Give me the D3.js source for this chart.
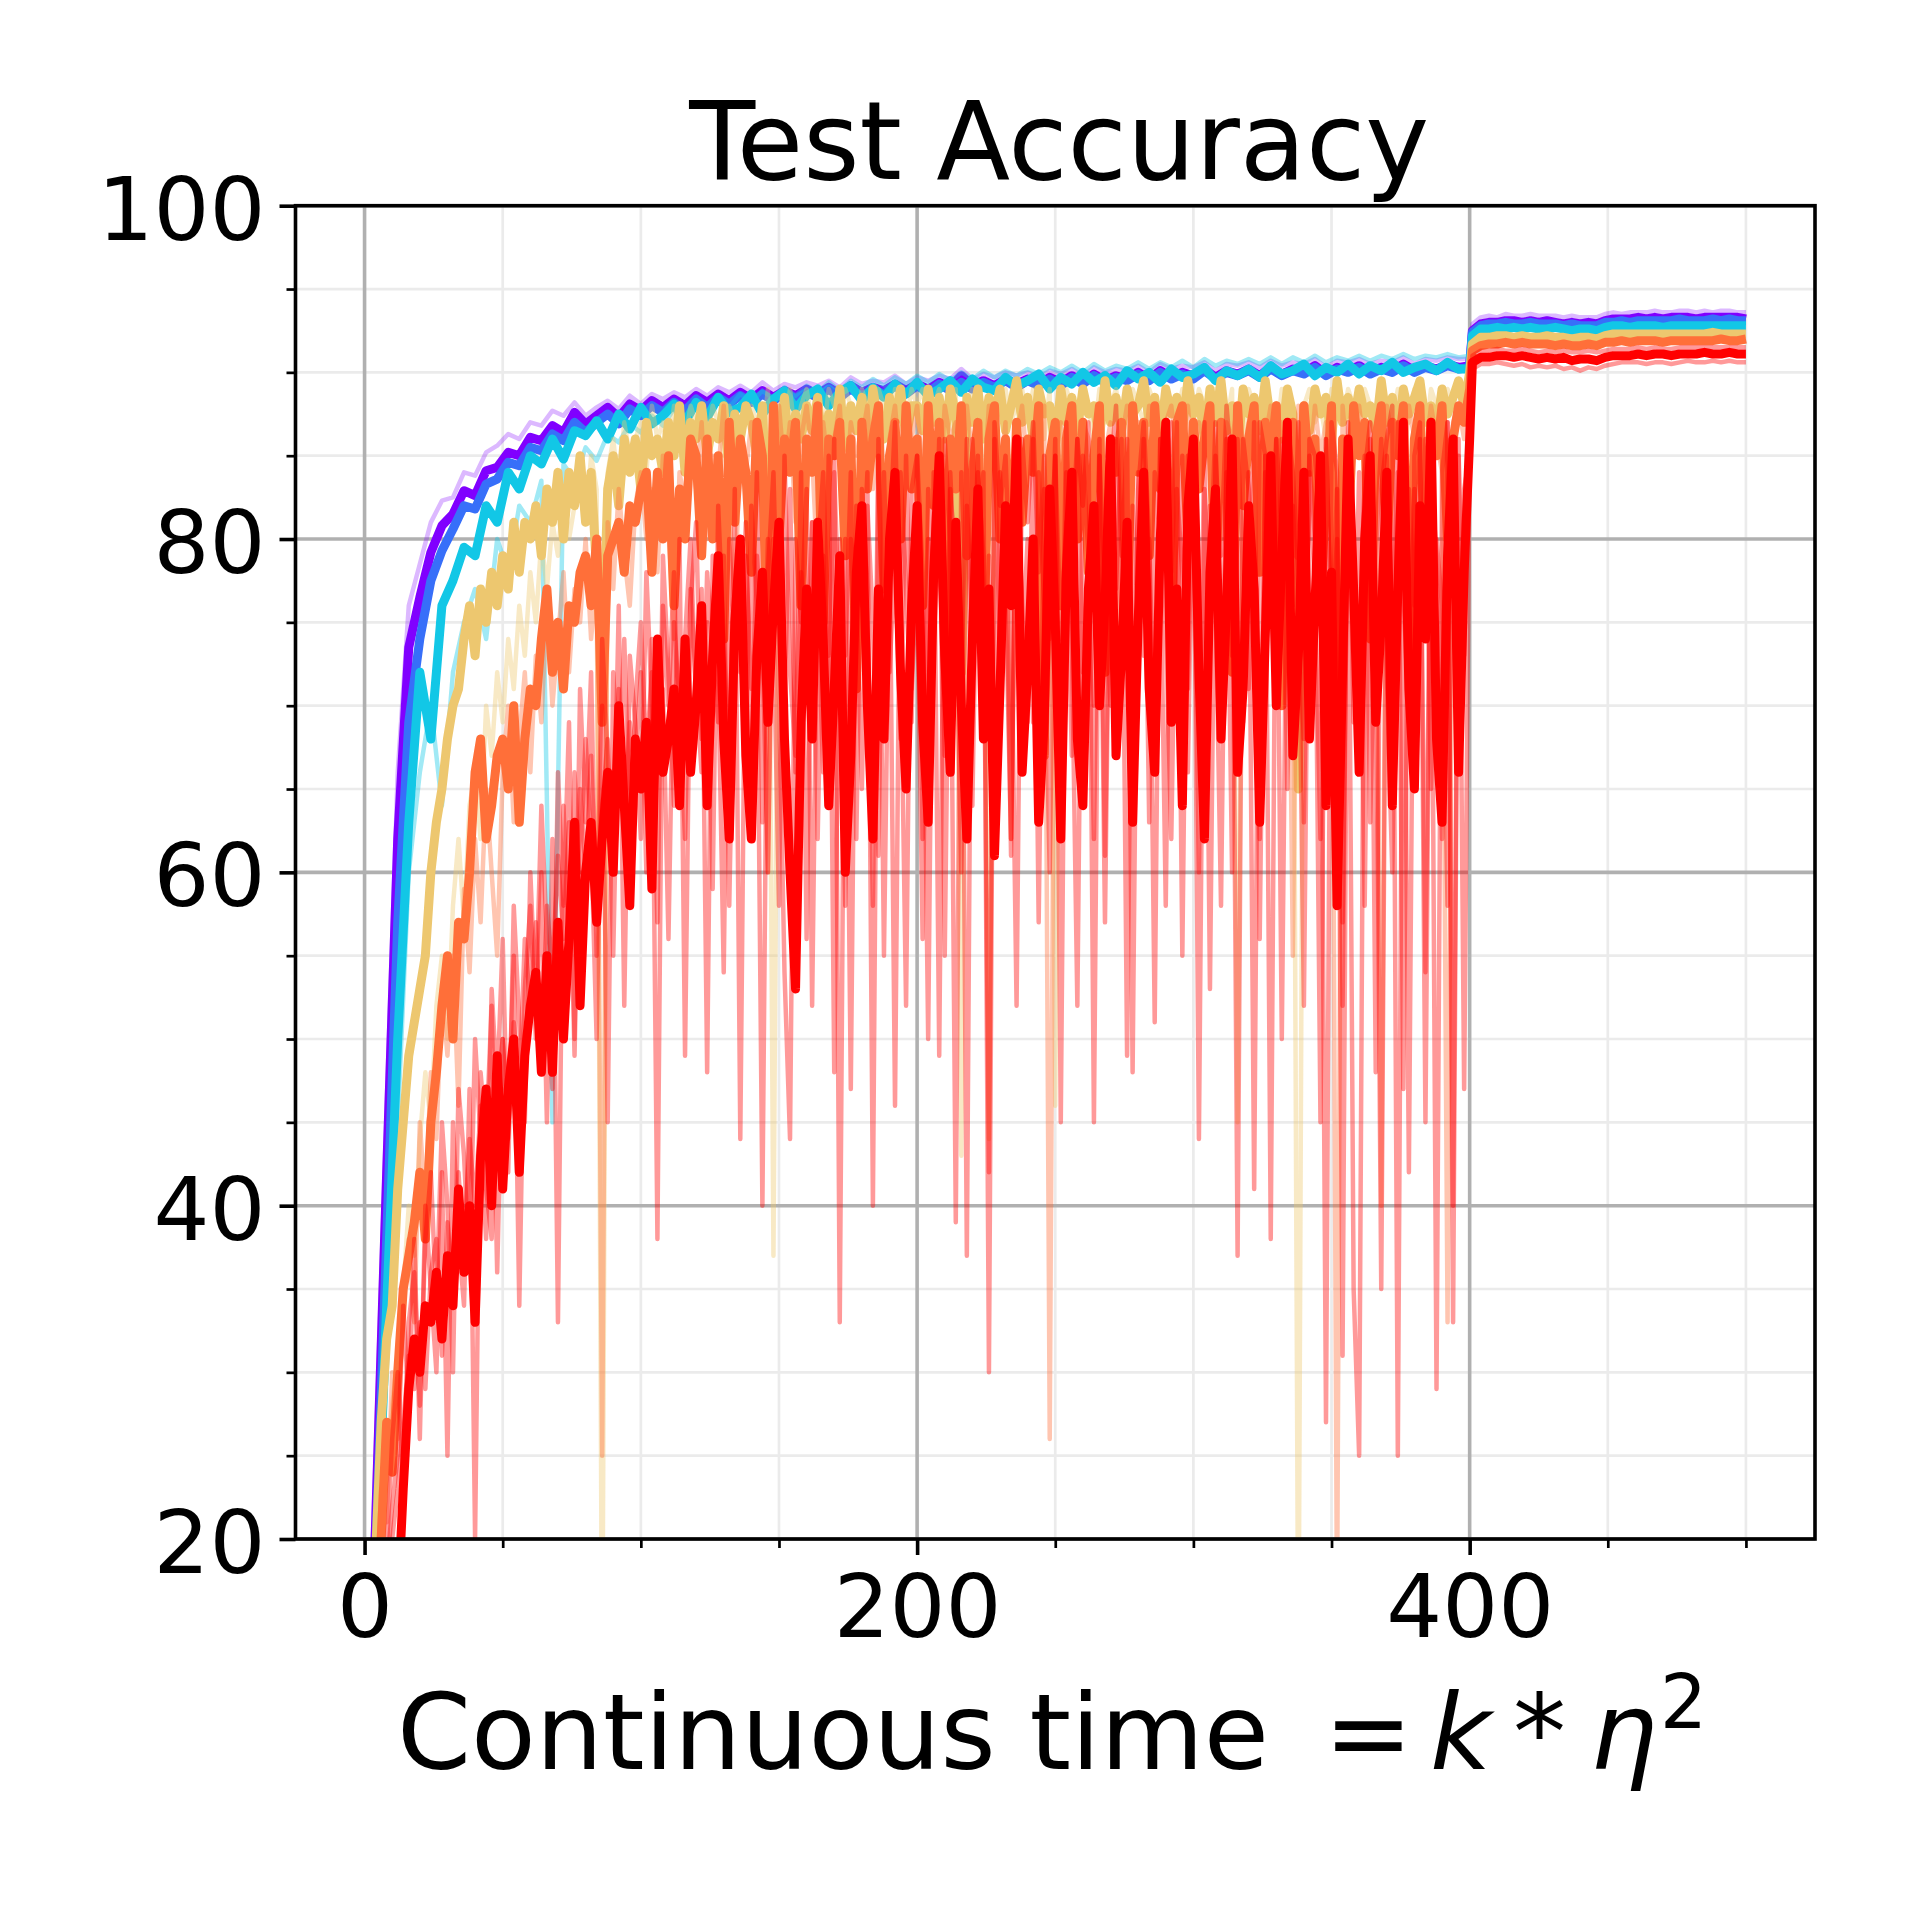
<!DOCTYPE html>
<html>
<head>
<meta charset="utf-8">
<script src="https://cdn.jsdelivr.net/npm/d3@7"></script>
<style>
html, body { margin: 0; padding: 0; background: #fff; }
svg text { font-family: 'DejaVu Sans', sans-serif; fill: #000; }
</style>
</head>
<body>
<svg id="chart"></svg>
<script>
'use strict'

// x grids (continuous time); before the lr drop every 2 (or 4) units, after it every 3
let t_fine = d3.range(0, 401, 2), t_coarse = d3.range(0, 401, 4), t_post = d3.range(401, 501, 3)

let y_ticks = [20, 40, 60, 80, 100], y_minor = [25, 30, 35, 45, 50, 55, 65, 70, 75, 85, 90, 95],
	x_ticks = [0, 200, 400], x_minor = [50, 100, 150, 250, 300, 350, 450, 500]

// mean curves
let purple_pre = [
	2, 21, 42, 62, 73.5, 76.5, 79.2, 80.8, 81.5, 82.9,
	82.6, 84.1, 84.3, 85.2, 85.0, 86.1, 85.9, 86.8, 86.4, 87.6,
	86.9, 87.4, 87.9, 87.3, 88.1, 87.7, 88.3, 87.9, 88.4, 88.0,
	88.6, 88.2, 88.7, 88.3, 88.8, 88.4, 88.9, 88.5, 88.9, 88.6,
	89.0, 88.7, 89.1, 88.7, 89.2, 88.8, 89.1, 88.9, 89.3, 88.9,
	89.3, 89.0, 89.4, 89.1, 89.8, 89.2, 89.5, 89.2, 89.6, 89.3,
	89.6, 89.3, 89.7, 89.4, 89.8, 89.4, 89.9, 89.5, 89.8, 89.6,
	90.0, 89.6, 90.1, 89.7, 90.0, 89.8, 90.2, 89.7, 90.1, 89.9,
	90.2, 89.8, 90.3, 89.9, 90.2, 90.0, 90.4, 89.9, 90.3, 90.1,
	90.4, 90.0, 90.3, 90.1, 90.5, 90.1, 90.4, 90.2, 90.5, 90.3,
	90.4 ]
let purple_post = [
	92.5, 92.9, 93.0, 93.0, 93.1, 93.1, 93.0, 93.1, 93.0, 93.1, 93.0, 92.9, 93.0, 92.9, 93.0, 92.9, 93.1,
	93.2, 93.2, 93.2, 93.3, 93.2, 93.3, 93.2, 93.3, 93.3, 93.3, 93.2, 93.3, 93.3, 93.3, 93.3, 93.3, 93.2 ]

let blue_pre = [
	1, 19, 38, 57, 69, 74, 77.5, 79.3, 80.6, 82.0,
	81.8, 83.3, 83.6, 84.6, 84.4, 85.5, 85.3, 86.3, 85.9, 87.0,
	86.4, 87.0, 87.5, 86.9, 87.8, 87.4, 88.0, 87.6, 88.2, 87.7,
	88.4, 87.9, 88.5, 88.1, 88.6, 88.2, 88.7, 88.3, 88.8, 88.4,
	88.8, 88.5, 89.0, 88.5, 89.0, 88.6, 89.0, 88.7, 89.2, 88.7,
	89.2, 88.8, 89.3, 88.9, 89.4, 89.0, 89.4, 89.1, 89.5, 89.1,
	89.5, 89.2, 89.6, 89.2, 89.7, 89.3, 89.8, 89.4, 89.7, 89.5,
	89.9, 89.5, 90.0, 89.6, 89.9, 89.6, 90.1, 89.6, 90.0, 89.8,
	90.1, 89.7, 90.2, 89.8, 90.1, 89.9, 90.3, 89.8, 90.2, 90.0,
	90.3, 89.9, 90.2, 90.0, 90.4, 90.0, 90.3, 90.1, 90.4, 90.2,
	90.3 ]
let blue_post = [
	92.4, 92.8, 92.9, 92.9, 93.0, 92.9, 92.9, 93.0, 92.9, 92.9, 92.9, 92.8, 92.9, 92.8, 92.8, 92.8, 93.0,
	93.0, 93.1, 93.0, 93.1, 93.1, 93.1, 93.1, 93.1, 93.2, 93.1, 93.1, 93.1, 93.2, 93.1, 93.2, 93.1, 93.1 ]

let cyan_pre = [
	0, 17, 34, 50, 63, 72, 68, 76, 77.5, 79.5,
	79.0, 82.0, 81.0, 84.0, 83.0, 85.0, 84.5, 86.0, 84.8, 86.5,
	86.2, 87.1, 86.0, 87.5, 86.6, 87.9, 86.9, 87.4, 88.1, 87.0,
	88.2, 87.3, 88.5, 87.6, 87.9, 88.7, 87.5, 88.4, 88.9, 87.8,
	88.6, 89.0, 88.0, 88.8, 89.2, 88.3, 89.1, 88.5, 89.3, 88.7,
	89.4, 88.6, 89.0, 89.5, 88.8, 89.6, 89.1, 88.9, 89.7, 89.2,
	89.5, 89.9, 89.0, 89.7, 89.3, 90.0, 89.4, 89.8, 89.2, 90.1,
	89.6, 90.0, 89.4, 90.2, 89.7, 89.9, 90.3, 89.5, 90.1, 89.8,
	90.2, 89.7, 90.4, 89.9, 90.1, 90.5, 89.8, 90.3, 90.0, 90.5,
	89.9, 90.4, 90.1, 90.6, 90.0, 90.3, 90.5, 90.1, 90.6, 90.2,
	90.2 ]
let cyan_post = [
	92.2, 92.6, 92.6, 92.7, 92.6, 92.7, 92.6, 92.7, 92.6, 92.6, 92.7, 92.6, 92.5, 92.6, 92.6, 92.5, 92.7,
	92.8, 92.8, 92.7, 92.8, 92.8, 92.8, 92.7, 92.8, 92.8, 92.8, 92.8, 92.8, 92.8, 92.8, 92.8, 92.8, 92.8 ]

let tan_pre = [
	2, 10, 19, 27, 32, 34, 41, 45, 49, 51,
	53, 55, 60, 63, 65, 68, 70, 71, 74, 76,
	73, 77, 75, 78, 76, 79, 77, 81, 78, 81,
	80, 82, 79, 83, 81, 84, 80, 84, 82, 85,
	81, 84, 78, 72, 83, 85, 82, 86, 84, 86,
	83, 87, 85, 86, 84, 87, 85, 88, 84, 87,
	86, 88, 85, 87, 86, 88, 84, 87.5, 86, 88,
	87, 85, 88, 80, 87, 86, 88.5, 85, 87.5, 86,
	88, 86.5, 88.5, 85, 87.5, 86, 89, 85.5, 88, 86.5,
	88.5, 85.5, 89, 87, 86, 88.5, 87, 89, 86, 88,
	88, 86.5, 89, 87, 88.5, 86, 89, 87.5, 72, 88.5,
	87, 89, 86, 88.5, 87.5, 89, 86.5, 88, 89.5, 87,
	88.5, 86, 89, 87.5, 88, 85.5, 89, 87, 88.5, 86.5,
	89, 87.5, 88, 86, 89.5, 87, 88.5, 86.5, 89, 87.5,
	88, 89.5, 87, 88.5, 86, 89, 87.5, 88.5, 86.5, 89.5,
	87.5, 88.5, 86, 89, 87, 89.5, 86.5, 88, 85, 89,
	87.5, 88.5, 86.5, 89.5, 87, 88, 86, 89, 87.5, 65,
	88, 86.5, 89, 87.5, 88.5, 86, 89.5, 87, 88.5, 87,
	89, 87.5, 88, 86.5, 89.5, 87, 88.5, 86, 89, 87.5,
	88.5, 89.5, 87, 88, 86.5, 89, 87.5, 88.5, 89.5, 88,
	90 ]
let tan_post = [
	91.7, 92.1, 92.1, 92.2, 92.2, 92.1, 92.2, 92.1, 92.1, 92.2, 92.1, 92.1, 92.0, 92.1, 92.1, 92.0, 92.2,
	92.3, 92.3, 92.3, 92.3, 92.3, 92.3, 92.3, 92.3, 92.3, 92.3, 92.3, 92.3, 92.4, 92.3, 92.3, 92.3, 92.3 ]

let orange_pre = [
	5, 6, 10, 20, 27, 24, 30, 35, 37, 39,
	42, 38, 45, 48, 52, 55, 50, 57, 56, 60,
	66, 68, 62, 64, 67, 68, 65, 70, 63, 68,
	71, 70, 74, 77, 72, 75, 71, 76, 75, 78,
	79, 76, 80, 69, 79, 80, 81, 78, 82, 81,
	83, 84, 78, 84, 80, 85, 76, 83, 80, 86,
	85, 79, 86, 80, 85, 74, 87, 81, 86, 84,
	78, 87, 85, 72, 88, 80, 86, 84, 87, 76,
	86, 84, 88, 75, 86, 85, 87, 79, 86, 71,
	87, 83, 86, 88, 77, 85, 87, 80, 88, 83,
	86, 76, 88, 82, 87, 74, 86, 83, 88, 79,
	84, 87, 73, 86, 88, 80, 86, 77, 87, 81,
	86, 84, 88, 67, 85, 87, 76, 86, 88, 80,
	87, 78, 85, 88, 72, 86, 84, 87, 75, 88,
	84, 87, 79, 88, 83, 86, 74, 87, 88, 80,
	87, 83, 86, 88, 77, 87, 84, 72, 88, 82,
	86, 88, 78, 87, 85, 88, 70, 86, 87, 79,
	88, 84, 86, 76, 83, 88, 65, 86, 80, 88,
	85, 87, 74, 86, 88, 79, 87, 85, 88, 73,
	86, 88, 77, 87, 85, 88, 80, 86, 88, 87,
	89 ]
let orange_post = [
	91.3, 91.6, 91.7, 91.7, 91.8, 91.7, 91.8, 91.7, 91.7, 91.7, 91.6, 91.7, 91.6, 91.6, 91.7, 91.6, 91.8,
	91.8, 91.9, 91.8, 91.9, 91.9, 91.9, 91.8, 91.9, 91.9, 91.9, 91.9, 91.9, 91.9, 92.0, 91.9, 91.9, 92.0 ]

let red_pre = [
	5, 5, 6, 8, 10, 12, 16, 23, 29, 32,
	30, 34, 33, 36, 32, 37, 34, 41, 36, 40,
	33, 43, 47, 40, 49, 41, 47, 50, 42, 49,
	52, 54, 48, 55, 48, 57, 50, 56, 63, 52,
	60, 63, 57, 62, 66, 60, 70, 64, 58, 68,
	65, 69, 59, 74, 66, 68, 71, 64, 74, 66,
	70, 76, 64, 73, 79, 68, 62, 75, 80, 67,
	62, 73, 78, 69, 76, 81, 68, 60, 53, 69,
	77, 68, 81, 74, 64, 71, 79, 60, 67, 78,
	82, 70, 62, 77, 68, 80, 84, 72, 65, 76,
	82, 69, 63, 78, 85, 73, 66, 81, 70, 62,
	74, 83, 68, 77, 61, 71, 82, 76, 86, 66,
	72, 80, 63, 69, 83, 75, 62, 78, 84, 68,
	64, 77, 82, 70, 76, 86, 67, 73, 81, 63,
	75, 84, 71, 66, 80, 87, 69, 77, 64, 82,
	86, 72, 62, 78, 83, 68, 76, 86, 66, 71,
	82, 77, 63, 74, 85, 70, 79, 87, 67, 73,
	84, 68, 76, 85, 64, 78, 58, 72, 86, 77,
	66, 80, 85, 69, 75, 84, 64, 77, 87, 71,
	65, 82, 74, 87, 68, 63, 79, 86, 66, 78,
	86 ]
let red_post = [
	90.6, 90.9, 90.9, 91.0, 91.0, 90.9, 91.0, 90.9, 90.8, 90.9, 90.8, 90.9, 90.7, 90.8, 90.8, 90.7, 90.9,
	91.0, 91.0, 91.0, 91.1, 91.0, 91.1, 91.1, 91.0, 91.1, 91.1, 91.1, 91.2, 91.1, 91.1, 91.2, 91.1, 91.1 ]

// single runs, drawn faint
let purple_run_pre = [
	4, 25, 46, 66, 76, 78.5, 81, 82.3, 82.5, 84,
	83.8, 85.2, 85.6, 86.3, 86.0, 87.0, 86.8, 87.7, 87.4, 88.2,
	87.4, 87.9, 88.3, 87.8, 88.6, 88.1, 88.7, 88.4, 88.8, 88.5,
	89.0, 88.6, 89.1, 88.8, 89.2, 88.8, 89.4, 88.9, 89.3, 89.1,
	89.4, 89.2, 89.5, 89.1, 89.7, 89.3, 89.5, 89.4, 89.8, 89.3,
	89.7, 89.5, 89.8, 89.6, 90.2, 89.6, 89.9, 89.7, 90.0, 89.8,
	90.0, 89.7, 90.1, 89.9, 90.2, 89.8, 90.3, 90.0, 90.2, 90.1,
	90.4, 90.0, 90.5, 90.2, 90.4, 90.3, 90.6, 90.1, 90.5, 90.4,
	90.6, 90.3, 90.7, 90.4, 90.6, 90.5, 90.8, 90.3, 90.7, 90.6,
	90.8, 90.5, 90.7, 90.6, 90.9, 90.5, 90.8, 90.7, 90.9, 90.8,
	90.8 ]
let purple_run_post = [
	92.9, 93.3, 93.4, 93.3, 93.5, 93.4, 93.4, 93.5, 93.4, 93.4, 93.4, 93.3, 93.4, 93.3, 93.3, 93.3, 93.5,
	93.6, 93.5, 93.6, 93.6, 93.6, 93.7, 93.6, 93.6, 93.7, 93.7, 93.6, 93.7, 93.6, 93.7, 93.7, 93.6, 93.6 ]

let cyan_run_pre = [
	0, 15, 30, 45, 60, 66, 70, 64, 72, 75,
	77, 74, 80, 78, 82, 81, 83.5, 45, 84.5, 83.5,
	85.5, 84.7, 86.3, 85.8, 86.9, 86.4, 87.4, 86.8, 87.8, 87.2,
	88.1, 87.6, 88.4, 87.9, 88.7, 88.2, 88.9, 88.4, 89.1, 88.6,
	89.2, 88.8, 89.4, 88.9, 89.5, 89.1, 89.6, 89.2, 89.7, 89.3,
	89.8, 89.4, 89.9, 89.5, 90.0, 89.6, 90.1, 89.7, 90.1, 89.8,
	90.2, 89.9, 90.3, 90.0, 90.4, 90.0, 90.5, 90.1, 90.4, 90.2,
	90.6, 90.2, 90.6, 90.3, 90.7, 90.3, 90.8, 90.4, 90.7, 90.5,
	90.8, 90.5, 90.9, 90.5, 90.9, 90.6, 91.0, 90.6, 90.9, 90.7,
	91.0, 90.7, 91.0, 90.8, 91.1, 90.8, 91.0, 90.9, 91.1, 90.9,
	91.0 ]

let tan_run_pre = [
	5, 8, 14, 20, 24, 28, 31, 35, 40, 37,
	44, 48, 45, 52, 55, 50, 58, 62, 57, 64,
	66, 62, 70, 67, 72, 69, 74, 71, 76, 73,
	78, 75, 80, 77, 81, 79, 83, 80, 82, 84,
	81, 85, 83, 10, 84, 86, 83, 87, 85, 86,
	87, 84, 88, 86, 87, 85, 88, 87, 86, 88,
	87, 88, 86, 88, 87, 85, 88, 87, 86, 88,
	88, 87, 86, 89, 37, 88, 87, 89, 86, 88,
	89, 87, 88, 86, 89, 88, 87, 89, 88, 87,
	89, 88, 87, 89, 88, 86, 89, 88, 87, 89,
	88, 89, 87, 88, 89, 86, 88, 89, 43, 88,
	89, 87, 88, 44, 86, 88, 89, 87, 88, 89,
	87, 89, 88, 86, 89, 46, 87, 89, 88, 87,
	89, 88, 86, 89, 87, 88, 89, 87, 88, 89,
	88, 87, 89, 88, 86, 89, 88, 87, 89, 88,
	87, 89, 88, 86, 89, 88, 87, 89, 45, 86,
	89, 88, 87, 89, 88, 86, 89, 88, 87, 10,
	88, 89, 87, 88, 86, 89, 88, 87, 89, 88,
	87, 89, 88, 86, 89, 88, 87, 89, 88, 87,
	89, 88, 86, 89, 88, 87, 89, 88, 87, 89,
	90 ]

let orange_run_pre = [
	5, 8, 15, 23, 21, 30, 26, 34, 38, 33,
	45, 40, 48, 44, 53, 49, 55, 46, 59, 54,
	62, 57, 65, 60, 55, 66, 70, 63, 68, 72,
	66, 73, 69, 76, 70, 74, 78, 72, 77, 75,
	80, 74, 78, 25, 81, 77, 83, 79, 76, 82,
	84, 80, 83, 78, 85, 81, 74, 84, 82, 86,
	83, 87, 80, 85, 84, 88, 82, 76, 86, 84,
	87, 83, 85, 60, 86, 88, 84, 87, 81, 86,
	88, 85, 78, 87, 84, 86, 88, 82, 87, 85,
	86, 88, 83, 87, 70, 86, 88, 84, 87, 86,
	88, 84, 87, 85, 82, 88, 86, 87, 84, 88,
	85, 87, 83, 88, 86, 84, 87, 62, 86, 88,
	84, 87, 86, 88, 26, 86, 87, 84, 88, 85,
	87, 86, 84, 88, 85, 87, 72, 86, 88, 84,
	87, 85, 88, 86, 83, 87, 88, 85, 86, 88,
	84, 87, 86, 88, 85, 80, 87, 86, 88, 85,
	87, 88, 84, 86, 88, 85, 87, 86, 55, 88,
	86, 84, 88, 85, 87, 86, 15, 88, 84, 86,
	88, 85, 87, 86, 40, 88, 86, 87, 84, 88,
	86, 87, 85, 88, 86, 84, 33, 87, 88, 86,
	89 ]

let red_run_a_pre = [
	5, 6, 8, 12, 18, 22, 25, 34, 28, 38,
	26, 40, 35, 30, 42, 25, 45, 38, 34, 47,
	20, 48, 44, 52, 36, 50, 45, 55, 34, 53,
	58, 50, 60, 45, 62, 33, 64, 55, 66, 60,
	68, 62, 50, 70, 45, 72, 66, 74, 63, 70,
	75, 67, 72, 38, 76, 70, 78, 65, 74, 80,
	70, 77, 48, 79, 72, 54, 80, 74, 78, 68,
	82, 76, 40, 78, 84, 71, 54, 44, 80, 75,
	83, 52, 79, 84, 73, 86, 33, 80, 47, 82,
	76, 84, 40, 85, 55, 80, 87, 74, 52, 83,
	85, 78, 50, 84, 49, 86, 80, 39, 84, 37,
	86, 79, 84, 30, 87, 82, 85, 76, 52, 86,
	81, 87, 78, 85, 74, 86, 45, 84, 80, 86,
	82, 87, 45, 85, 57, 84, 88, 79, 86, 48,
	83, 87, 80, 51, 86, 84, 78, 87, 55, 85,
	82, 60, 87, 53, 85, 79, 88, 84, 37, 86,
	83, 41, 87, 85, 38, 86, 80, 87, 84, 78,
	52, 86, 85, 80, 27, 87, 84, 31, 86, 35,
	25, 84, 87, 48, 83, 86, 88, 25, 84, 42,
	85, 87, 45, 86, 29, 84, 87, 33, 86, 47,
	86 ]
let red_run_a_post = [
	90.2, 90.5, 90.5, 90.6, 90.5, 90.4, 90.5, 90.3, 90.4, 90.3, 90.4, 90.2, 90.3, 90.1, 90.3, 90.2, 90.4,
	90.5, 90.6, 90.6, 90.6, 90.5, 90.6, 90.6, 90.5, 90.6, 90.7, 90.6, 90.6, 90.7, 90.6, 90.7, 90.6, 90.6 ]

let red_run_b_pre = [
	5, 5, 7, 10, 14, 20, 23, 27, 31, 29,
	33, 29, 36, 38, 31, 39, 35, 42, 37, 44,
	40, 46, 41, 38, 47, 50, 44, 51, 47, 56,
	52, 57, 49, 58, 54, 61, 56, 63, 49, 65,
	60, 67, 58, 64, 68, 55, 71, 62, 69, 66,
	72, 60, 74, 68, 71, 56, 75, 70, 62, 77,
	71, 66, 78, 73, 69, 79, 58, 76, 72, 81,
	68, 79, 74, 60, 80, 76, 70, 83, 66, 78,
	73, 81, 62, 79, 70, 84, 74, 58, 80, 77,
	65, 82, 75, 61, 84, 72, 79, 68, 85, 71,
	78, 56, 83, 74, 81, 67, 84, 76, 60, 82,
	75, 85, 70, 79, 66, 84, 77, 62, 86, 73,
	80, 69, 84, 76, 60, 85, 74, 81, 67, 86,
	72, 79, 62, 85, 77, 70, 86, 74, 81, 64,
	84, 73, 80, 67, 86, 75, 62, 83, 78, 71,
	85, 74, 66, 82, 77, 58, 86, 73, 80, 69,
	84, 76, 62, 85, 78, 71, 86, 65, 82, 75,
	68, 84, 77, 62, 86, 74, 80, 57, 84, 76,
	70, 85, 63, 79, 86, 72, 60, 84, 77, 69,
	83, 74, 86, 65, 80, 76, 58, 85, 70, 83,
	85 ]
let red_run_b_post = [
	91.0, 91.3, 91.3, 91.4, 91.3, 91.3, 91.4, 91.3, 91.2, 91.3, 91.2, 91.3, 91.2, 91.2, 91.3, 91.2, 91.3,
	91.4, 91.4, 91.4, 91.5, 91.4, 91.5, 91.4, 91.4, 91.5, 91.5, 91.5, 91.5, 91.5, 91.5, 91.5, 91.5, 91.5 ]

let red_run_c_pre = [
	5, 5, 9, 14, 19, 26, 30, 24, 33, 36,
	28, 38, 42, 34, 45, 40, 30, 47, 43, 36,
	50, 44, 38, 53, 47, 56, 42, 58, 51, 45,
	60, 52, 64, 56, 47, 66, 58, 69, 50, 71,
	63, 72, 55, 74, 67, 60, 76, 52, 73, 69,
	62, 78, 70, 57, 79, 72, 64, 80, 49, 76,
	81, 68, 75, 59, 82, 74, 66, 83, 44, 79,
	71, 84, 63, 80, 75, 58, 85, 72, 67, 84,
	56, 81, 76, 66, 85, 48, 80, 73, 84, 62,
	83, 77, 58, 86, 72, 81, 46, 84, 77, 69,
	85, 62, 80, 74, 86, 55, 83, 78, 71, 86,
	64, 84, 79, 42, 86, 73, 82, 61, 85, 76,
	69, 86, 57, 83, 78, 85, 66, 87, 74, 52,
	85, 79, 70, 86, 61, 84, 77, 86, 49, 82,
	75, 86, 63, 84, 80, 58, 87, 72, 85, 66,
	86, 44, 83, 77, 87, 69, 84, 60, 86, 78,
	71, 87, 56, 84, 79, 86, 50, 83, 76, 87,
	63, 85, 80, 45, 86, 74, 83, 52, 87, 69,
	84, 58, 86, 77, 35, 85, 71, 87, 47, 83,
	76, 86, 54, 84, 79, 62, 87, 40, 85, 73,
	87 ]

let pts = (t, pre, post) => d3.zip(t, pre).concat(post ? d3.zip(t_post, post) : [])

// colours: matplotlib 'rainbow' at 0, 1/7, 2/7, 5/7, 6/7, 1
let series = [
	{k: 'purple', color: '#8000ff', mean: pts(t_coarse, purple_pre, purple_post),
		runs: [pts(t_coarse, purple_run_pre, purple_run_post)]},
	{k: 'blue', color: '#376ff9', mean: pts(t_coarse, blue_pre, blue_post), runs: []},
	{k: 'cyan', color: '#12c7e6', mean: pts(t_coarse, cyan_pre, cyan_post),
		runs: [pts(t_coarse, cyan_run_pre)]},
	{k: 'tan', color: '#edc76f', mean: pts(t_fine, tan_pre, tan_post),
		runs: [pts(t_fine, tan_run_pre)]},
	{k: 'orange', color: '#ff6f39', mean: pts(t_fine, orange_pre, orange_post),
		runs: [pts(t_fine, orange_run_pre)]},
	{k: 'red', color: '#ff0000', mean: pts(t_fine, red_pre, red_post),
		runs: [pts(t_fine, red_run_a_pre, red_run_a_post), pts(t_fine, red_run_b_pre, red_run_b_post),
			pts(t_fine, red_run_c_pre)]} ]

let W = 1910, H = 1910,
	box = {left: 295.5, right: 1815, top: 205.7, bottom: 1539},
	x = d3.scaleLinear().domain([-25, 525]).range([box.left, box.right]),
	y = d3.scaleLinear().domain([20, 100]).range([box.bottom, box.top]),
	line = d3.line().x(d => x(d[0])).y(d => y(d[1]))

let svg = d3.select('#chart').attr('width', W).attr('height', H)
svg.append('rect').attr('width', W).attr('height', H).attr('fill', '#fff')
svg.append('defs').append('clipPath').attr('id', 'clip')
	.append('rect').attr('x', box.left).attr('y', box.top)
	.attr('width', box.right - box.left).attr('height', box.bottom - box.top)

// grid
let grid = svg.append('g')
let hlines = (cls, vals, c, w) => grid.selectAll('.' + cls).data(vals).join('line').attr('class', cls)
		.attr('x1', box.left).attr('x2', box.right).attr('y1', d => y(d)).attr('y2', d => y(d))
		.attr('stroke', c).attr('stroke-width', w),
	vlines = (cls, vals, c, w) => grid.selectAll('.' + cls).data(vals).join('line').attr('class', cls)
		.attr('y1', box.top).attr('y2', box.bottom).attr('x1', d => x(d)).attr('x2', d => x(d))
		.attr('stroke', c).attr('stroke-width', w)
hlines('gy-min', y_minor, '#ebebeb', 2.7)
vlines('gx-min', x_minor, '#ebebeb', 2.7)
hlines('gy', y_ticks, '#b0b0b0', 3.6)
vlines('gx', x_ticks, '#b0b0b0', 3.6)

// curves: faint single runs under each mean line
let plot = svg.append('g').attr('clip-path', 'url(#clip)')
	.attr('fill', 'none').attr('stroke-linejoin', 'round').attr('stroke-linecap', 'butt')
series.forEach(s => {
	s.runs.forEach(r => plot.append('path').attr('d', line(r))
		.attr('stroke', s.color).attr('stroke-opacity', s.k === 'purple' ? 0.28 : 0.4)
		.attr('stroke-width', 4.5))
	plot.append('path').attr('class', `mean ${s.k}`).attr('d', line(s.mean))
		.attr('stroke', s.color).attr('stroke-width', 9) })

// axes
let style_ax = (g, w) => g.call(g => g.select('.domain').remove())
	.call(g => g.selectAll('.tick line').attr('stroke', '#000').attr('stroke-width', w))
svg.append('g').attr('transform', `translate(${box.left} 0)`)
	.call(d3.axisLeft(y).tickValues(y_minor).tickSize(9).tickFormat(''))
	.call(g => style_ax(g, 2.7))
svg.append('g').attr('transform', `translate(0 ${box.bottom})`)
	.call(d3.axisBottom(x).tickValues(x_minor).tickSize(9).tickFormat(''))
	.call(g => style_ax(g, 2.7))
svg.append('g').attr('transform', `translate(${box.left} 0)`)
	.call(d3.axisLeft(y).tickValues(y_ticks).tickSize(16).tickPadding(14))
	.call(g => style_ax(g, 3.6))
	.call(g => g.selectAll('.tick text').attr('font-size', 88).attr('dy', '0.38em')
		.attr('font-family', "'DejaVu Sans', sans-serif"))
svg.append('g').attr('transform', `translate(0 ${box.bottom})`)
	.call(d3.axisBottom(x).tickValues(x_ticks).tickSize(16).tickPadding(20))
	.call(g => style_ax(g, 3.6))
	.call(g => g.selectAll('.tick text').attr('font-size', 88)
		.attr('font-family', "'DejaVu Sans', sans-serif"))

svg.append('rect').attr('x', box.left).attr('y', box.top)
	.attr('width', box.right - box.left).attr('height', box.bottom - box.top)
	.attr('fill', 'none').attr('stroke', '#000').attr('stroke-width', 3.6)

// texts
svg.append('text').attr('x', (box.left + box.right) / 2 + 4).attr('y', 179)
	.attr('text-anchor', 'middle').attr('font-size', 108).text('Test Accuracy')

let xl = svg.append('text').attr('y', 1769).attr('font-size', 106)
xl.append('tspan').attr('x', 397).text('Continuous time')
xl.append('tspan').attr('x', 1324).text('=')
xl.append('tspan').attr('x', 1430).attr('font-style', 'italic').text('k')
xl.append('tspan').attr('x', 1513).text('*')
xl.append('tspan').attr('x', 1590).attr('font-style', 'italic').text('η')
xl.append('tspan').attr('x', 1660).attr('y', 1728).attr('font-size', 74).text('2')
</script>
</body>
</html>
